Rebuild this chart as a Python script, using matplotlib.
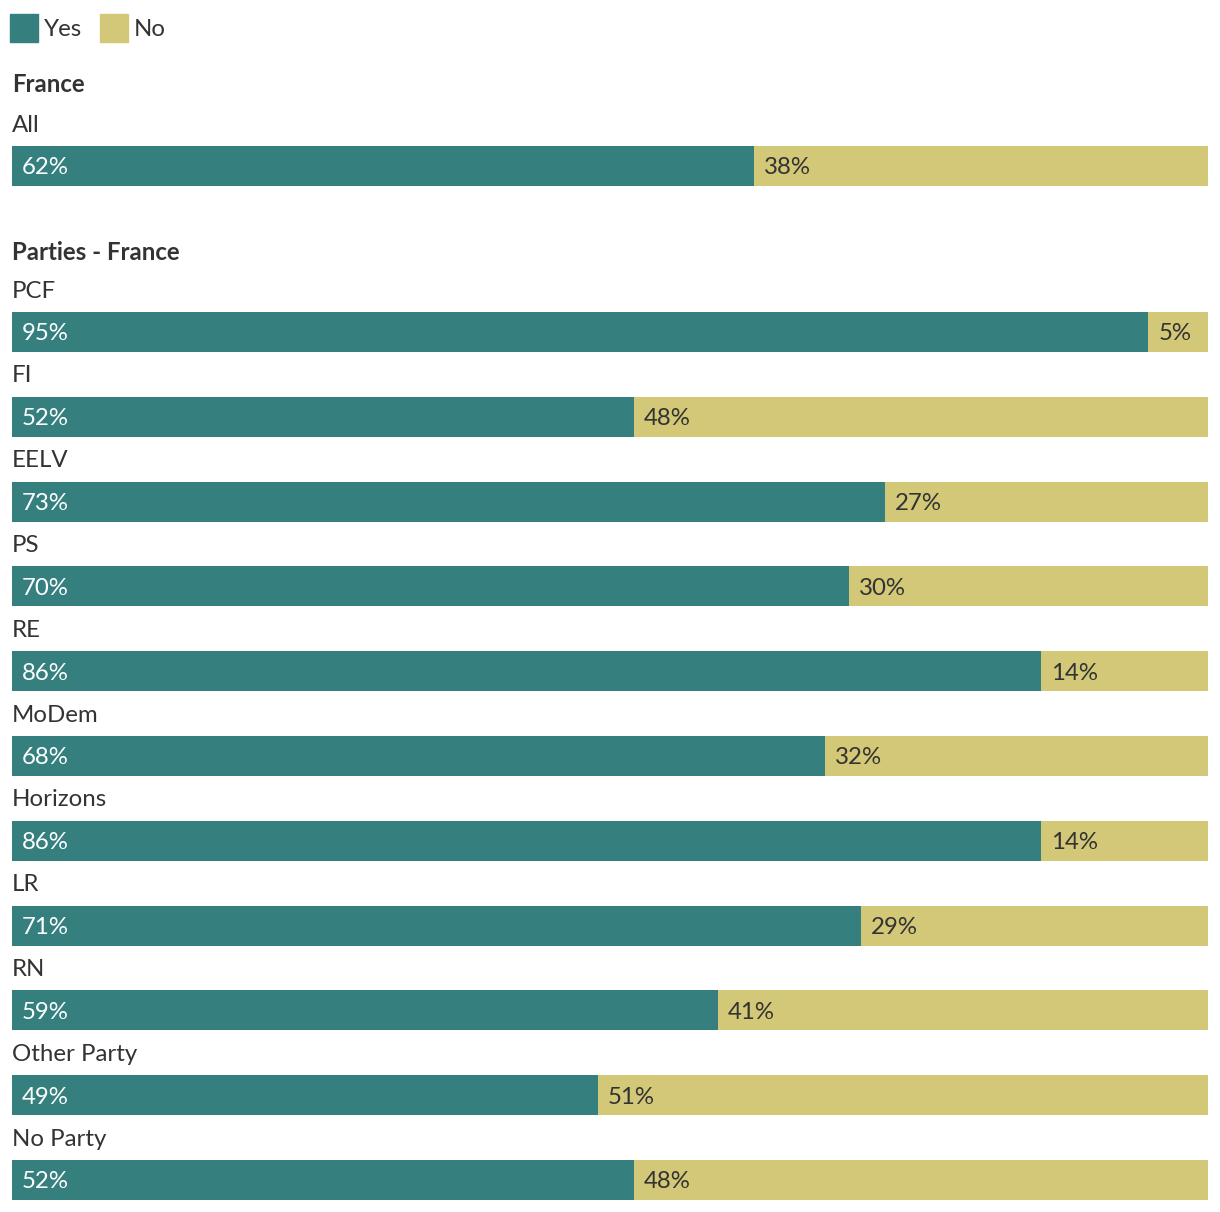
import matplotlib
matplotlib.use("Agg")
import matplotlib.pyplot as plt
from matplotlib.patches import Rectangle

plt.rcParams['font.family'] = ['Lato', 'DejaVu Sans']

# data
france_labels = ["All"]
france_yes = [62]
france_no = [38]
party_labels = ["PCF", "FI", "EELV", "PS", "RE", "MoDem", "Horizons", "LR",
                "RN", "Other Party", "No Party"]
party_yes = [95, 52, 73, 70, 86, 68, 86, 71, 59, 49, 52]
party_no = [5, 48, 27, 30, 14, 32, 14, 29, 41, 51, 48]

YES_COLOR = "#357f7f"
NO_COLOR = "#d2c877"
TEXT = "#333333"
FS = 17.3

W, H = 1220, 1212
fig = plt.figure(figsize=(W / 100, H / 100), dpi=100)
left, right = 12, 1208
ax = fig.add_axes([left / W, 0, (right - left) / W, 1])
ax.set_xlim(0, 100)
ax.set_ylim(H, 0)
ax.axis("off")

# legend
for x, lab, col in [(10, "Yes", YES_COLOR), (100, "No", NO_COLOR)]:
    fig.patches.append(Rectangle((x / W, 1 - 42 / H), 28 / W, 28 / H,
                                 transform=fig.transFigure, color=col))
    fig.text((x + 34) / W, 1 - 28 / H, lab, fontsize=FS, color=TEXT,
             va="center_baseline", ha="left")


def draw_group(title, title_y, labels, yes, no, first_bar, step):
    ax.text(0, title_y, title, fontsize=FS, fontweight="bold", color=TEXT,
            va="center_baseline", ha="left")
    for i, (lab, y_, n_) in enumerate(zip(labels, yes, no)):
        yc = first_bar + i * step
        ax.text(0, yc - 43, lab, fontsize=FS, color=TEXT,
                va="center_baseline", ha="left")
        ax.barh(yc, y_, height=40, left=0, color=YES_COLOR)
        ax.barh(yc, n_, height=40, left=y_, color=NO_COLOR)
        ax.annotate(f"{y_}%", (0, yc), xytext=(7.2, 0), textcoords="offset points",
                    fontsize=FS, color="white", va="center_baseline", ha="left")
        ax.annotate(f"{n_}%", (y_, yc), xytext=(7.2, 0), textcoords="offset points",
                    fontsize=FS, color=TEXT, va="center_baseline", ha="left")


draw_group("France", 83, france_labels, france_yes, france_no, 166, 84.8)
draw_group("Parties - France", 251, party_labels, party_yes, party_no, 332, 84.8)

fig.savefig("out.png", dpi=100, facecolor="white")
